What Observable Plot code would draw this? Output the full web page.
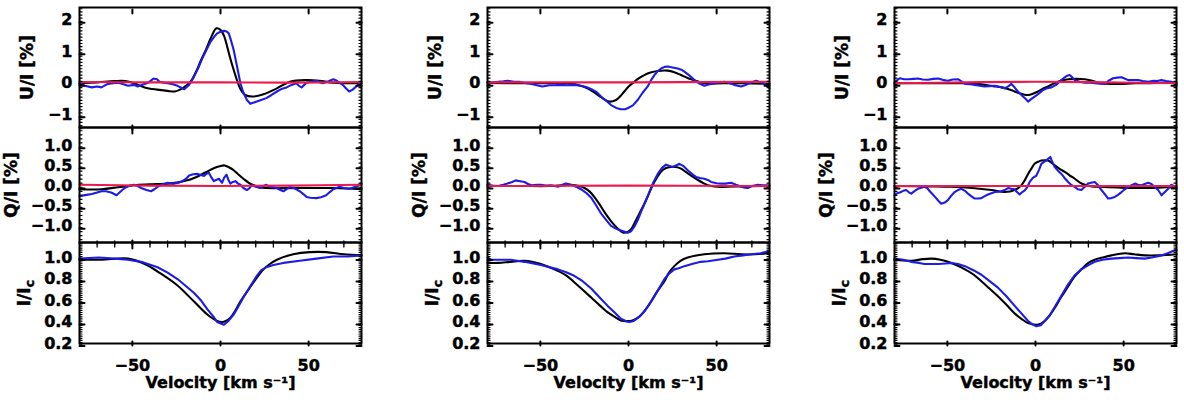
<!DOCTYPE html>
<html><head><meta charset="utf-8">
<script src="https://cdn.jsdelivr.net/npm/d3@7"></script>
<script src="https://cdn.jsdelivr.net/npm/@observablehq/plot@0.6"></script>
<style>
body{margin:0;background:#fff;}
#wrap{position:relative;width:1184px;height:402px;overflow:hidden;background:#fff;}
#wrap svg{position:absolute;overflow:visible;}
</style></head><body><div id="wrap"></div>
<script>
// ---------- axes / ticks ----------
const velDomain = [-80, 80];
const xMajor = [-50, 0, 50];
const xMajorLabels = ["−50", "0", "50"];
const xMinor = [-70, -60, -40, -30, -20, -10, 10, 20, 30, 40, 60, 70];
const xLabel = "Velocity [km s⁻¹]";

const uDomain = [-1.4, 2.4];
const uMajor = [-1, 0, 1, 2];
const uMajorLabels = ["−1", "0", "1", "2"];
const uMinor = d3.range(-14, 25).map(d => d / 10);
const uLabel = "U/I [%]";

const qDomain = [-1.4, 1.45];
const qMajor = [-1, -0.5, 0, 0.5, 1];
const qMajorLabels = ["−1.0", "−0.5", "0.0", "0.5", "1.0"];
const qMinor = d3.range(-14, 15).map(d => d / 10);
const qLabel = "Q/I [%]";

const iDomain = [0.2, 1.14];
const iMajor = [0.2, 0.4, 0.6, 0.8, 1.0];
const iMajorLabels = ["0.2", "0.4", "0.6", "0.8", "1.0"];
const iMinor = d3.range(10, 58).map(d => d / 50);
const iLabel = "I/Ic";

// ---------- column 1 ----------
const U1_model = [[-80,0],[-70,0.03],[-60,0.07],[-54,0.07],[-49,0.0],[-43,-0.13],[-36,-0.2],[-30,-0.24],[-26,-0.26],[-21.6,-0.16],[-17,0.05],[-14,0.35],[-11,0.74],[-8,1.1],[-5.6,1.42],[-2.3,1.74],[0,1.69],[2,1.5],[3.8,1.16],[5.5,0.8],[7.5,0.42],[10.3,-0.05],[12,-0.25],[14,-0.37],[17.8,-0.42],[24.4,-0.35],[32,-0.16],[39.4,0.05],[48.8,0.1],[56,0.08],[64,0.02],[80,0]];
const U1_obs = [[-80,0.0],[-77,-0.08],[-73,-0.13],[-70,-0.1],[-67.6,-0.13],[-64,-0.02],[-61,0.0],[-58,0.02],[-55,-0.03],[-52.5,-0.08],[-49,-0.05],[-47,-0.1],[-44,-0.04],[-41,0.02],[-38,0.15],[-36,0.13],[-34.7,0.05],[-32,0.02],[-30,0.0],[-27,-0.03],[-24.4,-0.08],[-22,-0.15],[-20.6,-0.19],[-17.8,-0.05],[-15,0.21],[-12.5,0.5],[-10.3,0.79],[-8,1.05],[-5.6,1.32],[-3.5,1.48],[-1.9,1.58],[0,1.63],[1.9,1.66],[3.5,1.64],[4.7,1.58],[6,1.35],[7.5,1.05],[9.5,0.5],[11.3,0.0],[13,-0.3],[15,-0.53],[16.9,-0.65],[18.5,-0.62],[20.6,-0.58],[23,-0.53],[26,-0.47],[29,-0.37],[32,-0.26],[35,-0.17],[37.5,-0.13],[40,-0.06],[43,0.0],[44.5,-0.08],[46,-0.13],[47.5,-0.05],[48.8,0.02],[51,0.05],[54.4,0.08],[56,0.04],[58,0.0],[61,0.06],[64,0.13],[66,0.08],[69.4,-0.05],[71,-0.15],[73,-0.26],[75,-0.2],[77,-0.1],[80,0.05]];
const U1_null = [[-80,0.04],[-40,0.03],[0,0.03],[40,0.02],[80,0.04]];

const Q1_model = [[-80,-0.08],[-67.6,-0.08],[-58,-0.03],[-49,0.02],[-40,0.04],[-30,0.06],[-24,0.09],[-18.8,0.14],[-15,0.2],[-11,0.28],[-7,0.37],[-3.8,0.44],[-0.5,0.49],[2.3,0.51],[5,0.46],[7.5,0.39],[10,0.29],[13,0.18],[16,0.08],[18.8,0.02],[22,-0.03],[26,-0.05],[45,-0.05],[64,-0.05],[80,-0.08]];
const Q1_obs = [[-80,-0.25],[-76,-0.22],[-73,-0.2],[-70,-0.16],[-67.6,-0.13],[-65,-0.13],[-62,-0.16],[-59,-0.23],[-57,-0.15],[-54.4,-0.05],[-52,0.0],[-49,0.03],[-47,0.0],[-45,-0.05],[-42,-0.1],[-39.4,-0.13],[-37.5,-0.08],[-35.7,-0.02],[-33,0.04],[-30,0.08],[-28,0.06],[-26,0.06],[-24,0.08],[-21.6,0.12],[-19.5,0.18],[-17.8,0.26],[-15.5,0.29],[-13,0.3],[-11,0.27],[-9.4,0.25],[-8,0.3],[-6.6,0.33],[-5,0.2],[-3.8,0.12],[-2.5,0.15],[-0.9,0.18],[0.9,0.08],[2,0.2],[3.4,0.28],[4.5,0.15],[5.6,0.06],[7,0.1],[8.4,0.12],[10,0.06],[11.3,0.03],[13,-0.05],[15,-0.1],[16.5,-0.05],[17.8,0.02],[20,-0.02],[22.5,-0.05],[24.5,0.0],[26,0.03],[28,-0.02],[32,-0.05],[34,-0.1],[35.7,-0.13],[37.5,-0.08],[39.4,-0.02],[42,-0.06],[45,-0.13],[47,-0.2],[48.8,-0.27],[51,-0.29],[54.4,-0.3],[57,-0.28],[60,-0.23],[62,-0.15],[64,-0.08],[67.6,-0.02],[70,-0.05],[73,-0.07],[75,-0.04],[77,-0.02],[80,0.06]];
const Q1_null = [[-80,0.03],[-40,0.01],[0,0.0],[40,0.01],[80,0.03]];

const I1_model = [[-80,0.98],[-67.6,0.98],[-52.5,0.99],[-43,0.94],[-33.8,0.85],[-24.4,0.74],[-15,0.59],[-7.5,0.47],[-1.9,0.41],[0.9,0.40],[3,0.41],[5.6,0.44],[8.5,0.51],[11.3,0.59],[15,0.68],[18.8,0.77],[24.4,0.89],[28,0.94],[32,0.98],[41.3,1.03],[50.7,1.05],[60,1.05],[70,1.03],[80,1.02]];
const I1_obs = [[-80,0.99],[-69,1.0],[-60,0.99],[-52.5,0.98],[-45,0.96],[-35.7,0.91],[-30,0.86],[-24.4,0.8],[-20,0.74],[-15,0.67],[-11,0.6],[-7.5,0.52],[-4,0.45],[-1.9,0.40],[1.9,0.375],[4.5,0.41],[7.5,0.47],[10,0.54],[13,0.63],[16,0.71],[20.6,0.83],[23,0.88],[26,0.91],[30,0.93],[35.7,0.95],[45,0.97],[54.4,0.99],[64,1.01],[72,1.01],[80,1.02]];

// ---------- column 2 ----------
const U2_model = [[-80,0.01],[-60,0.0],[-40,0.0],[-32,-0.01],[-29,-0.05],[-25,-0.12],[-21,-0.23],[-15.6,-0.44],[-10.9,-0.58],[-7.1,-0.53],[-4.5,-0.4],[-2.4,-0.26],[0.5,-0.08],[3.3,0.05],[6,0.16],[9,0.26],[12.5,0.34],[16.6,0.39],[22.3,0.4],[26,0.35],[29.8,0.26],[33.5,0.17],[37.4,0.1],[43,0.0],[54,0.0],[65,0.0],[80,-0.02]];
const U2_obs = [[-80,0.02],[-77,0.03],[-74,0.05],[-71,0.06],[-68.7,0.08],[-65,0.05],[-62,0.05],[-58,0.0],[-55,-0.02],[-52,-0.06],[-48.8,-0.1],[-45,-0.06],[-42,-0.06],[-38,-0.05],[-34.6,-0.06],[-31,-0.05],[-27,-0.08],[-24,-0.12],[-21,-0.19],[-18,-0.28],[-15.6,-0.42],[-12.5,-0.56],[-9.9,-0.69],[-7,-0.78],[-4.3,-0.82],[-2,-0.82],[-0.5,-0.79],[2.5,-0.7],[5.2,-0.53],[8,-0.3],[10.9,-0.1],[12.8,0.1],[14.7,0.26],[16.5,0.38],[18.5,0.47],[20.5,0.52],[22.3,0.53],[25,0.5],[27.9,0.47],[30,0.43],[31.7,0.37],[34.5,0.25],[37.4,0.1],[40,0.0],[43,-0.08],[46,-0.03],[48.8,0.0],[51.5,0.02],[54.5,0.05],[57,0.01],[60,-0.05],[63.9,-0.1],[66,-0.06],[67.7,-0.02],[70,0.03],[72.4,0.08],[74,0.05],[76,0.02],[78,-0.05],[80,-0.16]];
const U2_null = [[-80,0.03],[0,0.03],[80,0.05]];

const Q2_model = [[-80,0.0],[-60,0.0],[-45,0.0],[-36,0.02],[-32.7,0.03],[-28,0.0],[-25,-0.05],[-22,-0.14],[-19.4,-0.27],[-16.5,-0.45],[-13.7,-0.64],[-10.8,-0.82],[-8,-0.97],[-5.5,-1.08],[-3.3,-1.15],[-0.5,-1.14],[1.5,-1.07],[3.3,-0.93],[6,-0.7],[9,-0.44],[11.5,-0.2],[13.7,0.02],[16,0.2],[18.5,0.36],[21,0.44],[24,0.47],[27,0.47],[29.8,0.43],[32.5,0.35],[35.5,0.26],[39,0.16],[43,0.06],[47,0.0],[50.7,-0.02],[60,-0.01],[80,0.0]];
const Q2_obs = [[-80,0.03],[-77,0.01],[-74,0.0],[-71,0.03],[-68.7,0.06],[-66,0.1],[-64,0.14],[-61.5,0.12],[-59,0.1],[-57,0.05],[-55,0.02],[-52,0.03],[-49.7,0.03],[-47,0.01],[-44,0.02],[-42,0.0],[-40,-0.02],[-37.5,0.03],[-35.5,0.06],[-33.5,0.04],[-31.7,0.02],[-29,-0.03],[-27,-0.08],[-24,-0.17],[-21,-0.3],[-18.5,-0.47],[-15.6,-0.68],[-12.5,-0.85],[-9.9,-0.99],[-7.5,-1.05],[-5.2,-1.09],[-3,-1.12],[-0.5,-1.16],[1.5,-1.12],[3.3,-1.01],[5.2,-0.85],[7.1,-0.64],[9.5,-0.4],[11.8,-0.15],[14,0.08],[16.6,0.3],[19,0.45],[21.3,0.53],[23,0.5],[25,0.47],[27,0.51],[28.9,0.55],[31,0.5],[33.6,0.39],[36,0.3],[38.4,0.22],[40.5,0.2],[43,0.18],[45,0.15],[46.9,0.1],[50,0.07],[52.6,0.06],[55,0.06],[58.2,0.08],[61,0.03],[64,-0.02],[66,-0.04],[67.7,-0.05],[70,0.0],[73.4,0.03],[76,0.02],[80,0.02]];
const Q2_null = [[-80,0.0],[0,0.01],[80,0.0]];

const I2_model = [[-80,0.95],[-74,0.95],[-67,0.96],[-59,0.97],[-49.7,0.94],[-45,0.91],[-40,0.875],[-35,0.83],[-30.8,0.77],[-26,0.7],[-21,0.625],[-16,0.55],[-11.8,0.49],[-8,0.45],[-4.3,0.415],[0.5,0.41],[3,0.42],[6.2,0.45],[9.5,0.51],[12.8,0.59],[16.5,0.69],[20.4,0.78],[23,0.86],[26,0.92],[29.5,0.97],[33.6,1.0],[43,1.03],[54.5,1.04],[64,1.03],[72,1.03],[80,1.04]];
const I2_obs = [[-80,1.0],[-78,0.98],[-74,0.98],[-67,0.98],[-59,0.96],[-49.7,0.93],[-40,0.89],[-35,0.86],[-30.8,0.83],[-26,0.78],[-21,0.71],[-16.5,0.63],[-11.8,0.55],[-8,0.49],[-4.3,0.43],[-1,0.405],[0.5,0.40],[3,0.41],[6.2,0.45],[9.5,0.51],[12.8,0.59],[16.5,0.69],[20.4,0.8],[23,0.85],[26,0.89],[28.5,0.9],[31.7,0.92],[36,0.94],[41,0.96],[45,0.965],[50.7,0.98],[55,0.99],[60,1.01],[65,1.02],[69.6,1.03],[75,1.04],[80,1.06]];

// ---------- column 3 ----------
const U3_model = [[-80,0.0],[-60,0.0],[-45,0.0],[-36,0.0],[-29,-0.05],[-24,-0.09],[-19,-0.13],[-14,-0.21],[-10,-0.3],[-7,-0.35],[-4.2,-0.37],[-1.5,-0.33],[1.4,-0.26],[4,-0.18],[7.1,-0.1],[10,-0.02],[12.8,0.05],[15.5,0.1],[18.5,0.13],[23,0.14],[28,0.13],[32,0.08],[35.5,0.02],[40,-0.01],[46.9,-0.02],[56.4,0.0],[70,0.01],[80,0.02]];
const U3_obs = [[-80,0.0],[-78.5,0.1],[-77,0.16],[-74.5,0.13],[-72,0.13],[-69,0.14],[-66.7,0.15],[-64,0.12],[-61,0.11],[-58,0.14],[-55,0.15],[-52,0.1],[-49.7,0.08],[-47,0.12],[-44,0.13],[-42,0.06],[-40,-0.02],[-37,-0.03],[-34.5,-0.05],[-31.5,-0.08],[-29,-0.1],[-26,-0.09],[-23,-0.08],[-20,-0.12],[-17.5,-0.16],[-15.5,-0.1],[-13.7,-0.02],[-12,-0.12],[-10,-0.26],[-8.5,-0.34],[-7.1,-0.42],[-5.5,-0.5],[-4.2,-0.58],[-2.5,-0.5],[-0.5,-0.42],[2,-0.32],[4.3,-0.21],[6.5,-0.16],[9,-0.13],[11.5,-0.06],[13.7,0.05],[15,0.12],[16.6,0.19],[18,0.24],[19.4,0.26],[21,0.18],[22.3,0.1],[25,0.05],[28,0.02],[31,0.02],[33.6,0.0],[36.5,-0.01],[39.3,-0.02],[41.5,0.08],[44,0.16],[46.5,0.18],[48.8,0.19],[50.5,0.15],[52.6,0.1],[55,0.1],[58.2,0.1],[61,0.07],[63.9,0.05],[67,0.08],[69,0.07],[71.5,0.1],[74,0.07],[77,0.05],[79,0.0],[80,-0.02]];
const U3_null = [[-80,0.0],[-40,0.03],[0,0.05],[40,0.03],[80,0.0]];

const Q3_model = [[-80,0.0],[-60,-0.01],[-47.8,-0.02],[-36,-0.05],[-25,-0.1],[-17.5,-0.15],[-11.8,-0.1],[-8,0.02],[-6,0.15],[-4.2,0.3],[-2.2,0.44],[-0.5,0.55],[1.5,0.6],[3.3,0.63],[7.1,0.63],[9,0.58],[10.9,0.51],[13.5,0.43],[16.6,0.35],[19.5,0.26],[22.3,0.18],[25,0.09],[28,0.03],[32,-0.01],[37.4,-0.02],[56.4,-0.05],[70,-0.04],[80,-0.02]];
const Q3_obs = [[-80,-0.23],[-78.5,-0.18],[-77,-0.16],[-75,-0.12],[-73.4,-0.1],[-72,-0.15],[-70.5,-0.19],[-68.5,-0.12],[-66.7,-0.07],[-63,-0.02],[-61.5,-0.05],[-60,-0.13],[-58.5,-0.2],[-57,-0.27],[-55,-0.37],[-53.5,-0.44],[-51.5,-0.41],[-49.7,-0.35],[-48,-0.25],[-45.9,-0.15],[-44,-0.1],[-42,-0.07],[-40,-0.12],[-38.3,-0.19],[-36.5,-0.25],[-34.5,-0.31],[-32.5,-0.31],[-30.7,-0.3],[-28.8,-0.25],[-27,-0.21],[-25,-0.18],[-23,-0.15],[-21,-0.14],[-19.4,-0.13],[-17.5,-0.1],[-15.6,-0.05],[-13.7,-0.07],[-11.8,-0.08],[-10.5,-0.15],[-9,-0.21],[-7.5,-0.15],[-6.1,-0.11],[-4.7,-0.03],[-3.3,0.1],[-1.5,0.2],[0.5,0.26],[2,0.4],[3.3,0.55],[4.8,0.6],[6.2,0.63],[7.3,0.68],[8.4,0.72],[9.5,0.6],[10.9,0.47],[12.8,0.38],[14.7,0.3],[16.5,0.2],[18.5,0.1],[20.5,0.02],[22.3,-0.02],[24,-0.08],[26,-0.1],[28,-0.02],[29.8,0.06],[31.5,0.08],[33.6,0.1],[35.5,0.02],[37.4,-0.1],[39.3,-0.2],[41.2,-0.31],[43,-0.3],[45,-0.27],[46.8,-0.22],[48.8,-0.15],[50.7,-0.08],[52.6,-0.03],[54.5,0.02],[56.4,0.06],[58.2,0.03],[60,0.02],[62,0.05],[63.9,0.08],[65.8,0.05],[67.7,-0.03],[69.6,-0.1],[71.5,-0.23],[73.4,-0.15],[75.3,-0.07],[77,0.03],[78.5,0.0],[80,-0.07]];
const Q3_null = [[-80,0.0],[0,0.0],[80,0.0]];

const I3_model = [[-80,0.98],[-70.5,0.97],[-64,0.985],[-59,0.99],[-54,0.98],[-49.7,0.96],[-45,0.93],[-40,0.89],[-35,0.84],[-30.7,0.78],[-26,0.71],[-21.3,0.64],[-16.5,0.56],[-11.8,0.48],[-8,0.43],[-4.2,0.39],[0.5,0.375],[3,0.385],[5.2,0.41],[8,0.46],[10.9,0.53],[14.5,0.63],[18.5,0.73],[22,0.82],[26,0.89],[30,0.95],[33.6,0.98],[38,1.0],[43,1.02],[50.7,1.04],[56,1.03],[62,1.02],[70,1.02],[80,1.03]];
const I3_obs = [[-80,0.99],[-75,0.98],[-70.5,0.96],[-66,0.95],[-63,0.94],[-59,0.94],[-55,0.94],[-51,0.945],[-47.8,0.95],[-44,0.94],[-40,0.92],[-35,0.88],[-30.7,0.84],[-26,0.78],[-21.3,0.72],[-16.5,0.64],[-11.8,0.55],[-8,0.48],[-4.2,0.41],[-2,0.38],[0.5,0.36],[3,0.37],[5.2,0.41],[8,0.46],[10.9,0.54],[14.5,0.64],[18.5,0.75],[22,0.83],[26,0.89],[30,0.93],[33.6,0.96],[38,0.98],[43,0.99],[47.5,0.995],[52.6,1.0],[57,0.995],[62,0.99],[66,1.0],[71.5,1.02],[75,1.04],[78,1.06],[80,1.07]];

// ---------- styling ----------
const colModel = "#000000", colObs = "#1c1ce6", colNull = "#ec1a4c";
const FONT = "DejaVu Sans";

const shapes = {
  up:    {draw(c, l) { c.moveTo(0, 0); c.lineTo(0, -l); }},
  down:  {draw(c, l) { c.moveTo(0, 0); c.lineTo(0, l); }},
  right: {draw(c, l) { c.moveTo(0, 0); c.lineTo(l, 0); }},
  left:  {draw(c, l) { c.moveTo(0, 0); c.lineTo(-l, 0); }}
};
function ticksX(vals, anchor, len, sw) {
  return Plot.vector(vals, {x: d => d, frameAnchor: anchor, length: len,
    shape: anchor === "top" ? shapes.down : shapes.up, stroke: "black", strokeWidth: sw});
}
function ticksY(vals, anchor, len, sw) {
  return Plot.vector(vals, {y: d => d, frameAnchor: anchor, length: len,
    shape: anchor === "left" ? shapes.right : shapes.left, stroke: "black", strokeWidth: sw});
}
const heavy = {fill: "black", stroke: "black", strokeWidth: 0.45};

const colLeft = [79, 487, 894];
const plotW = 282;
const rows = {
  U: {top: 0, height: 127, mt: 7, mb: 0, domain: uDomain, major: uMajor, labels: uMajorLabels, minor: uMinor, label: uLabel, labelDx: -52, xTop: false, xBottom: false},
  Q: {top: 127, height: 115, mt: 0, mb: 0, domain: qDomain, major: qMajor, labels: qMajorLabels, minor: qMinor, label: qLabel, labelDx: -68, xTop: false, xBottom: true},
  I: {top: 242, height: 160, mt: 0, mb: 59, domain: iDomain, major: iMajor, labels: iMajorLabels, minor: iMinor, label: iLabel, labelDx: -55, xTop: true, xBottom: false}
};
const panels = [
  {col: 0, row: "U", model: U1_model, obs: U1_obs, nul: U1_null},
  {col: 0, row: "Q", model: Q1_model, obs: Q1_obs, nul: Q1_null},
  {col: 0, row: "I", model: I1_model, obs: I1_obs},
  {col: 1, row: "U", model: U2_model, obs: U2_obs, nul: U2_null},
  {col: 1, row: "Q", model: Q2_model, obs: Q2_obs, nul: Q2_null},
  {col: 1, row: "I", model: I2_model, obs: I2_obs},
  {col: 2, row: "U", model: U3_model, obs: U3_obs, nul: U3_null},
  {col: 2, row: "Q", model: Q3_model, obs: Q3_obs, nul: Q3_null},
  {col: 2, row: "I", model: I3_model, obs: I3_obs}
];

const wrap = document.getElementById("wrap");
for (const p of panels) {
  const r = rows[p.row];
  const marks = [];
  marks.push(Plot.lineY(p.model, {x: d => d[0], y: d => d[1], stroke: colModel, strokeWidth: 2.1, curve: "catmull-rom"}));
  marks.push(Plot.lineY(p.obs, {x: d => d[0], y: d => d[1], stroke: colObs, strokeWidth: 2.1}));
  if (p.nul) marks.push(Plot.lineY(p.nul, {x: d => d[0], y: d => d[1], stroke: colNull, strokeWidth: 2.1, curve: "catmull-rom"}));
  marks.push(Plot.frame({stroke: "black", strokeWidth: 2}));
  marks.push(ticksX(xMajor, "top", 4, 2));
  marks.push(ticksX(xMajor, "bottom", 4, 2));
  if (r.xTop) marks.push(ticksX(xMinor, "top", 3, 1.3));
  if (r.xBottom) marks.push(ticksX(xMinor, "bottom", 3, 1.3));
  marks.push(ticksY(r.major, "left", 5, 2), ticksY(r.major, "right", 5, 2));
  marks.push(ticksY(r.minor, "left", 2.5, 1.2), ticksY(r.minor, "right", 2.5, 1.2));
  marks.push(Plot.text(r.major, {y: d => d, text: (d, i) => r.labels[i], frameAnchor: "left", dx: -7, textAnchor: "end", fontSize: 16, ...heavy}));
  marks.push(Plot.text([r.label], {text: d => d, frameAnchor: "left", dx: r.labelDx, rotate: -90, textAnchor: "middle", lineAnchor: "middle", fontSize: 17, ...heavy}));
  if (p.row === "I") {
    marks.push(Plot.text(xMajor, {x: d => d, text: (d, i) => xMajorLabels[i], frameAnchor: "bottom", dy: 16, lineAnchor: "top", textAnchor: "middle", fontSize: 16, ...heavy}));
    marks.push(Plot.text([xLabel], {text: d => d, frameAnchor: "bottom", dy: 33, lineAnchor: "top", textAnchor: "middle", fontSize: 16, ...heavy}));
  }
  const svg = Plot.plot({
    width: 79 + plotW + 6,
    height: r.height,
    marginLeft: 79, marginRight: 6, marginTop: r.mt, marginBottom: r.mb,
    x: {domain: velDomain, axis: null},
    y: {domain: r.domain, axis: null},
    style: {fontFamily: FONT, fontWeight: "bold", fontSize: "16px", background: "transparent", overflow: "visible", color: "black"},
    marks
  });
  svg.style.left = (colLeft[p.col] - 79) + "px";
  svg.style.top = r.top + "px";
  d3.select(svg).selectAll("text").filter(function() { return this.textContent === iLabel; }).each(function() {
    const t = d3.select(this);
    t.text("I/I");
    t.append("tspan").attr("dy", "0.3em").attr("font-size", "13px").text("c");
  });
  wrap.appendChild(svg);
}
</script></body></html>
